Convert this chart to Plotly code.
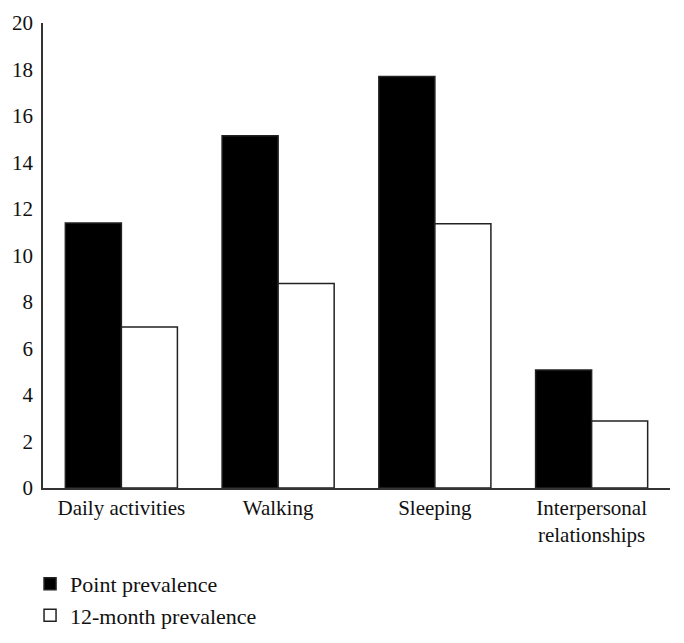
import plotly.graph_objects as go

categories = ["Daily activities", "Walking", "Sleeping", "Interpersonal<br>relationships"]
point_prevalence = [11.4, 15.15, 17.7, 5.07]
month12_prevalence = [6.92, 8.8, 11.37, 2.88]
y_ticks = [0, 2, 4, 6, 8, 10, 12, 14, 16, 18, 20]

FONT = "Liberation Serif"

fig = go.Figure()
fig.add_trace(go.Bar(
    x=categories, y=point_prevalence, name="Point prevalence",
    marker=dict(color="black", line=dict(color="#222", width=1.5)),
))
fig.add_trace(go.Bar(
    x=categories, y=month12_prevalence, name="12-month prevalence",
    marker=dict(color="white", line=dict(color="#222", width=1.5)),
))

fig.update_layout(
    width=668, height=627,
    margin=dict(l=35, r=6, t=15, b=147, autoexpand=False),
    paper_bgcolor="white", plot_bgcolor="white",
    barmode="group", bargap=0.285, bargroupgap=0,
    font=dict(family=FONT, size=21, color="#111"),
    showlegend=True,
    legend=dict(
        orientation="h", entrywidth=1, entrywidthmode="fraction",
        xref="container", yref="container",
        x=0.033, y=0.115, xanchor="left", yanchor="top",
        font=dict(family=FONT, size=22, color="#111"),
        bgcolor="rgba(0,0,0,0)",
    ),
    xaxis=dict(
        showline=True, linecolor="#333", linewidth=1.5,
        ticks="", showgrid=False, zeroline=False,
        tickfont=dict(family=FONT, size=21, color="#111"),
    ),
    yaxis=dict(
        range=[0, 20], tickvals=y_ticks, showline=True, linecolor="#333",
        linewidth=1.5, ticks="", showgrid=False, zeroline=False,
        ticklabelstandoff=4,
        tickfont=dict(family=FONT, size=21, color="#111"),
    ),
)

fig.write_html("out.html")
